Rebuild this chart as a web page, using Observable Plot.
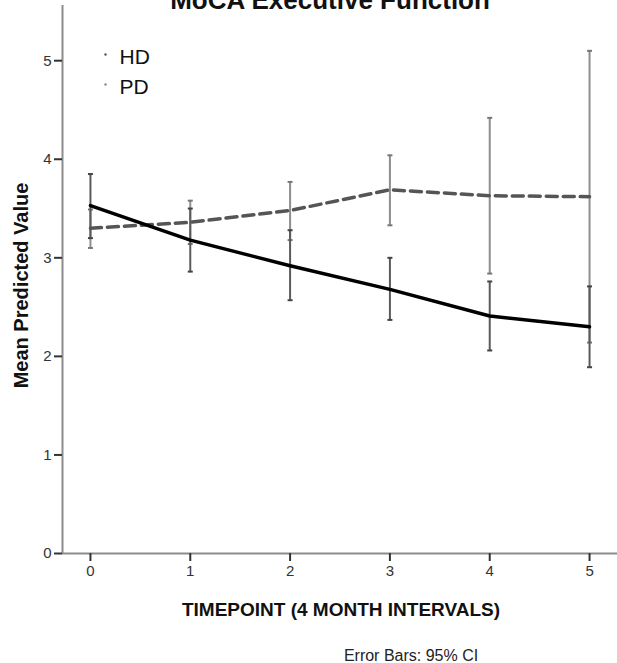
<!DOCTYPE html>
<html>
<head>
<meta charset="utf-8">
<script src="https://cdn.jsdelivr.net/npm/d3@7"></script>
<script src="https://cdn.jsdelivr.net/npm/@observablehq/plot@0.6"></script>
<style>
  html, body { margin: 0; padding: 0; background: #fff; }
  #chart svg { display: block; }
</style>
</head>
<body>
<div id="chart"></div>
<script>
// ---- data ----
const title = "MoCA Executive Function";
const xLabel = "TIMEPOINT (4 MONTH INTERVALS)";
const yLabel = "Mean Predicted Value";
const caption = "Error Bars: 95% CI";
const seriesNames = ["HD", "PD"];
const timepoints = [0, 1, 2, 3, 4, 5];
const yTicks = [0, 1, 2, 3, 4, 5];

const hdMean  = [3.53, 3.18, 2.92, 2.68, 2.41, 2.30];
const hdLower = [3.20, 2.86, 2.57, 2.37, 2.06, 1.89];
const hdUpper = [3.85, 3.50, 3.28, 3.00, 2.76, 2.71];

const pdMean  = [3.30, 3.36, 3.48, 3.69, 3.63, 3.62];
const pdLower = [3.10, 3.14, 3.18, 3.33, 2.84, 2.14];
const pdUpper = [3.49, 3.58, 3.77, 4.04, 4.42, 5.10];

// ---- build tables ----
const hd = timepoints.map((t, i) => ({t, mean: hdMean[i], lo: hdLower[i], hi: hdUpper[i]}));
const pd = timepoints.map((t, i) => ({t, mean: pdMean[i], lo: pdLower[i], hi: pdUpper[i]}));

const capSymbol = {
  draw(context, size) {
    const w = Math.sqrt(size / Math.PI);
    context.moveTo(-w, 0);
    context.lineTo(w, 0);
  }
};

const FONT = "'Liberation Sans', Arial, sans-serif";
const xDomain = [-0.28, 5.28];
const yDomain = [0, 5.56];

const chart = Plot.plot({
  width: 617,
  height: 663,
  marginLeft: 62,
  marginRight: 0,
  marginTop: 5,
  marginBottom: 110,
  style: {fontFamily: FONT, background: "#fff", color: "#222"},
  x: {domain: xDomain, axis: null},
  y: {domain: yDomain, axis: null},
  marks: [
    // axis lines
    Plot.ruleX([xDomain[0]], {stroke: "#8c8c8c", strokeWidth: 2}),
    Plot.ruleY([0], {stroke: "#8c8c8c", strokeWidth: 2}),
    // axes ticks and labels
    Plot.axisY(yTicks, {tickSize: 8, tickPadding: 3, fontSize: 15, stroke: "#333", fill: "#333", strokeWidth: 2, label: null, tickFormat: d3.format("d")}),
    Plot.axisX(timepoints, {tickSize: 8, tickPadding: 4, fontSize: 15, stroke: "#333", fill: "#333", strokeWidth: 2, label: null, tickFormat: d3.format("d")}),
    // PD error bars
    Plot.ruleX(pd, {x: "t", y1: "lo", y2: "hi", stroke: "#8e8e8e", strokeWidth: 2}),
    Plot.dot(pd, {x: "t", y: "lo", symbol: capSymbol, r: 2.5, stroke: "#777", strokeWidth: 2, fill: "none"}),
    Plot.dot(pd, {x: "t", y: "hi", symbol: capSymbol, r: 2.5, stroke: "#777", strokeWidth: 2, fill: "none"}),
    // HD error bars
    Plot.ruleX(hd, {x: "t", y1: "lo", y2: "hi", stroke: "#5a5a5a", strokeWidth: 2}),
    Plot.dot(hd, {x: "t", y: "lo", symbol: capSymbol, r: 2.5, stroke: "#444", strokeWidth: 2, fill: "none"}),
    Plot.dot(hd, {x: "t", y: "hi", symbol: capSymbol, r: 2.5, stroke: "#444", strokeWidth: 2, fill: "none"}),
    // lines
    Plot.line(pd, {x: "t", y: "mean", stroke: "#555", strokeWidth: 3.5, strokeDasharray: "11,6"}),
    Plot.line(hd, {x: "t", y: "mean", stroke: "#000", strokeWidth: 3.5}),
    // legend
    Plot.dot([seriesNames[0]], {frameAnchor: "top-left", dx: 43, dy: 49, r: 1.2, fill: "#555", stroke: "none"}),
    Plot.dot([seriesNames[1]], {frameAnchor: "top-left", dx: 43, dy: 79, r: 1.2, fill: "#888", stroke: "none"}),
    Plot.text([seriesNames[0]], {frameAnchor: "top-left", text: d => d, dx: 57, dy: 58, lineAnchor: "bottom", textAnchor: "start", fontSize: 21, fill: "#111"}),
    Plot.text([seriesNames[1]], {frameAnchor: "top-left", text: d => d, dx: 57, dy: 88, lineAnchor: "bottom", textAnchor: "start", fontSize: 21, fill: "#111"}),
    // title
    Plot.text([title], {frameAnchor: "top", text: d => d, dx: -10, dy: 3, lineAnchor: "bottom", fontSize: 26, fontWeight: "bold", fill: "#111"}),
    // axis labels
    Plot.text([yLabel], {frameAnchor: "left", text: d => d, rotate: -90, dx: -41, dy: 6, textAnchor: "middle", lineAnchor: "middle", fontSize: 20, fontWeight: "bold", fill: "#111"}),
    Plot.text([xLabel], {frameAnchor: "bottom", text: d => d, dx: 1, dy: 62, lineAnchor: "bottom", fontSize: 19, fontWeight: "bold", fill: "#111"}),
    Plot.text([caption], {frameAnchor: "bottom", text: d => d, dx: 71, dy: 107, lineAnchor: "bottom", fontSize: 16, fill: "#222"})
  ]
});

document.getElementById("chart").appendChild(chart);
</script>
</body>
</html>
